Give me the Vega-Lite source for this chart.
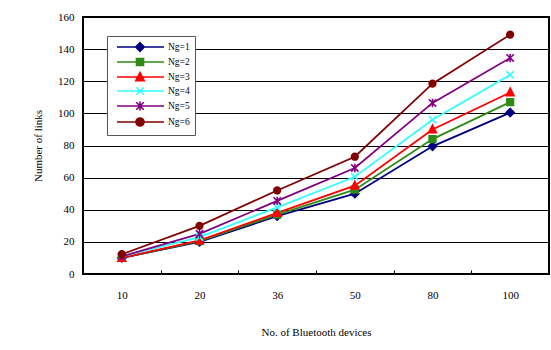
{
  "$schema": "https://vega.github.io/schema/vega-lite/v6.json",
  "width": 466,
  "height": 257,
  "autosize": {"type": "none"},
  "padding": {"left": 83, "top": 17, "right": 2, "bottom": 76},
  "background": "white",
  "config": {
    "view": {"stroke": "black", "strokeWidth": 2},
    "font": "Liberation Serif"
  },
  "data": {
    "values": [
      {"n": "10", "ng": "Ng=1", "links": 10},
      {"n": "20", "ng": "Ng=1", "links": 20},
      {"n": "36", "ng": "Ng=1", "links": 36},
      {"n": "50", "ng": "Ng=1", "links": 50},
      {"n": "80", "ng": "Ng=1", "links": 79.5},
      {"n": "100", "ng": "Ng=1", "links": 100.5},
      {"n": "10", "ng": "Ng=2", "links": 10},
      {"n": "20", "ng": "Ng=2", "links": 20.5},
      {"n": "36", "ng": "Ng=2", "links": 37},
      {"n": "50", "ng": "Ng=2", "links": 52.5},
      {"n": "80", "ng": "Ng=2", "links": 84},
      {"n": "100", "ng": "Ng=2", "links": 107},
      {"n": "10", "ng": "Ng=3", "links": 10},
      {"n": "20", "ng": "Ng=3", "links": 21},
      {"n": "36", "ng": "Ng=3", "links": 38},
      {"n": "50", "ng": "Ng=3", "links": 55},
      {"n": "80", "ng": "Ng=3", "links": 90},
      {"n": "100", "ng": "Ng=3", "links": 113},
      {"n": "10", "ng": "Ng=4", "links": 11},
      {"n": "20", "ng": "Ng=4", "links": 23},
      {"n": "36", "ng": "Ng=4", "links": 41.5},
      {"n": "50", "ng": "Ng=4", "links": 60.5},
      {"n": "80", "ng": "Ng=4", "links": 96},
      {"n": "100", "ng": "Ng=4", "links": 124},
      {"n": "10", "ng": "Ng=5", "links": 11},
      {"n": "20", "ng": "Ng=5", "links": 25},
      {"n": "36", "ng": "Ng=5", "links": 45.5},
      {"n": "50", "ng": "Ng=5", "links": 66},
      {"n": "80", "ng": "Ng=5", "links": 106.5},
      {"n": "100", "ng": "Ng=5", "links": 134.5},
      {"n": "10", "ng": "Ng=6", "links": 12.3},
      {"n": "20", "ng": "Ng=6", "links": 30},
      {"n": "36", "ng": "Ng=6", "links": 52},
      {"n": "50", "ng": "Ng=6", "links": 73},
      {"n": "80", "ng": "Ng=6", "links": 118.5},
      {"n": "100", "ng": "Ng=6", "links": 149}
    ]
  },
  "encoding": {
    "x": {
      "field": "n", "type": "nominal",
      "sort": ["10", "20", "36", "50", "80", "100"],
      "scale": {"type": "band", "paddingInner": 0, "paddingOuter": 0},
      "axis": {
        "title": "No. of Bluetooth devices",
        "labelAngle": 0,
        "domain": false,
        "ticks": true,
        "tickBand": "extent",
        "tickSize": -4,
        "tickColor": "black",
        "tickWidth": 1,
        "labelFont": "Liberation Serif",
        "labelFontSize": 11,
        "labelColor": "black",
        "labelPadding": 19,
        "titleFont": "Liberation Serif",
        "titleFontSize": 11,
        "titleFontWeight": "normal",
        "titleColor": "black",
        "titlePadding": 26
      }
    },
    "y": {
      "field": "links", "type": "quantitative",
      "scale": {"domain": [0, 160], "nice": false},
      "axis": {
        "title": "Number of links",
        "values": [0, 20, 40, 60, 80, 100, 120, 140, 160],
        "grid": true,
        "gridColor": "black",
        "gridWidth": 1,
        "gridOpacity": 1,
        "domain": false,
        "ticks": false,
        "labelFont": "Liberation Serif",
        "labelFontSize": 11,
        "labelColor": "black",
        "labelPadding": 9,
        "titleFont": "Liberation Serif",
        "titleFontSize": 11,
        "titleFontWeight": "normal",
        "titleColor": "black",
        "titlePadding": 14
      }
    }
  },
  "layer": [
    {
      "mark": {"type": "line", "strokeWidth": 1.8},
      "encoding": {
        "color": {
          "field": "ng", "type": "nominal",
          "scale": {"domain": ["Ng=1", "Ng=2", "Ng=3", "Ng=4", "Ng=5", "Ng=6"],
                    "range": ["#000080", "#2E8B14", "#FF0000", "#33FFFF", "#800080", "#800000"]},
          "legend": null
        }
      }
    },
    {
      "mark": {"type": "point", "filled": true, "size": 49, "strokeWidth": 1.6, "opacity": 1},
      "encoding": {
        "color": {
          "field": "ng", "type": "nominal",
          "scale": {"domain": ["Ng=1", "Ng=2", "Ng=3", "Ng=4", "Ng=5", "Ng=6"],
                    "range": ["#000080", "#2E8B14", "#FF0000", "#33FFFF", "#800080", "#800000"]},
          "legend": null
        },
        "stroke": {
          "field": "ng", "type": "nominal",
          "scale": {"domain": ["Ng=1", "Ng=2", "Ng=3", "Ng=4", "Ng=5", "Ng=6"],
                    "range": ["#000080", "#2E8B14", "#FF0000", "#33FFFF", "#800080", "#800000"]},
          "legend": null
        },
        "shape": {
          "field": "ng", "type": "nominal",
          "scale": {"domain": ["Ng=1", "Ng=2", "Ng=3", "Ng=4", "Ng=5", "Ng=6"],
                    "range": [
                      "M0,-1.15L1.15,0L0,1.15L-1.15,0Z",
                      "M-0.95,-0.95H0.95V0.95H-0.95Z",
                      "M0,-1.25L1.1,0.95H-1.1Z",
                      "M-1.05,-1.05L1.05,1.05M-1.05,1.05L1.05,-1.05",
                      "M-1.05,-1.05L1.05,1.05M-1.05,1.05L1.05,-1.05M0,-1.2V1.2",
                      "M0.95,0A0.95,0.95,0,1,1,-0.95,0A0.95,0.95,0,1,1,0.95,0Z"
                    ]},
          "legend": null
        }
      }
    },
    {
      "mark": {"type": "point", "filled": true, "size": 100, "strokeWidth": 1.6, "opacity": 0},
      "encoding": {
        "color": {
          "field": "ng", "type": "nominal", "title": null,
          "scale": {"domain": ["Ng=1", "Ng=2", "Ng=3", "Ng=4", "Ng=5", "Ng=6"],
                    "range": ["#000080", "#2E8B14", "#FF0000", "#33FFFF", "#800080", "#800000"]}
        },
        "stroke": {
          "field": "ng", "type": "nominal", "title": null,
          "scale": {"domain": ["Ng=1", "Ng=2", "Ng=3", "Ng=4", "Ng=5", "Ng=6"],
                    "range": ["#000080", "#2E8B14", "#FF0000", "#33FFFF", "#800080", "#800000"]}
        },
        "shape": {
          "field": "ng", "type": "nominal", "title": null,
          "scale": {"domain": ["Ng=1", "Ng=2", "Ng=3", "Ng=4", "Ng=5", "Ng=6"],
                    "range": [
                      "M-0.2,0H9.2M4.4,-0.85L5.25,0L4.4,0.85L3.55,0Z",
                      "M-0.2,0H9.2M3.7,-0.7H5.1V0.7H3.7Z",
                      "M-0.2,0H9.2M4.4,-0.9L5.25,0.75H3.55Z",
                      "M-0.2,0H9.2M3.65,-0.75L5.15,0.75M3.65,0.75L5.15,-0.75",
                      "M-0.2,0H9.2M3.65,-0.75L5.15,0.75M3.65,0.75L5.15,-0.75M4.4,-0.9V0.9",
                      "M-0.2,0H9.2M5.2,0A0.8,0.8,0,1,1,3.6,0A0.8,0.8,0,1,1,5.2,0Z"
                    ]},
          "legend": {
            "orient": "none",
            "legendX": 24,
            "legendY": 19,
            "title": null,
            "symbolOpacity": 1,
            "symbolSize": 100,
            "symbolStrokeWidth": 1.6,
            "labelFont": "Liberation Serif",
            "labelFontSize": 9.5,
            "labelColor": "black",
            "labelOffset": 44,
            "rowPadding": 0,
            "padding": 5,
            "strokeColor": "#555555",
            "fillColor": "white"
          }
        }
      }
    }
  ],
  "resolve": {
    "scale": {"shape": "independent", "color": "independent", "stroke": "independent"},
    "legend": {"shape": "independent", "color": "independent", "stroke": "independent"}
  }
}
